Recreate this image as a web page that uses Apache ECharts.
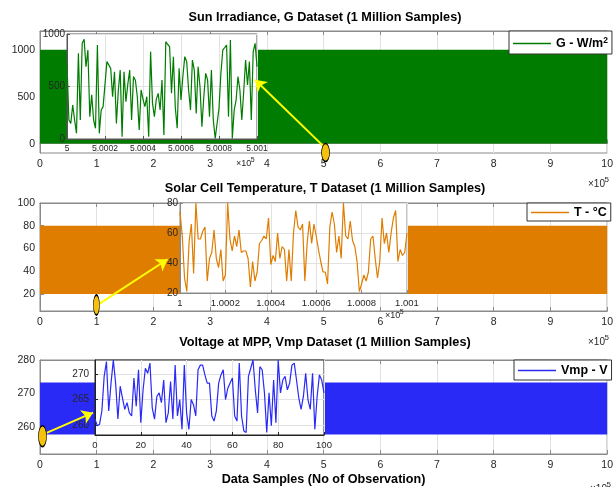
<!DOCTYPE html>
<html>
<head>
<meta charset="utf-8">
<script src="https://cdn.jsdelivr.net/npm/echarts@6/dist/echarts.min.js"></script>
<style>
  html, body { margin: 0; padding: 0; background: #fff; }
  #chart { width: 616px; height: 487px; }
</style>
</head>
<body>
<div id="chart"></div>
<script>
// ---------- data ----------
const totalSamples = 1000000;

// envelope of each full 1M-sample record (min, max)
const gRange = [0, 1000];
const tRange = [20, 80];
const vRange = [257.8, 273.3];

// first sample of each zoomed window (100 samples each)
const gStart = 500000;
const tStart = 100000;
const vStart = 0;

// G - irradiance (W/m2), samples 500000..500100
const gZoom = [721,181,149,324,181,54,816,181,911,949,
               689,848,213,420,181,102,895,54,276,308,
               520,737,752,673,403,641,149,460,657,22,
               641,356,520,657,181,594,560,403,86,467,
               380,308,403,22,832,340,213,380,435,276,
               562,38,927,900,879,435,784,300,102,673,
               371,600,784,737,467,276,752,657,244,689,
               498,117,400,625,562,213,657,181,6,150,
               292,625,848,870,895,213,943,6,276,371,
               594,467,181,450,752,514,737,181,832,911,689];

// T - cell temperature (°C), samples 100000..100100
const tZoom = [74,58,30,21,54,66,33,80,56,56,
               61,64,28,43,47,62,43,37,49,28,
               32,80,56,48,58,51,62,47,48,48,
               43,24,41,28,34,53,55,58,56,70,
               39,45,41,60,43,51,49,28,49,28,
               60,75,64,62,66,28,53,68,53,66,
               58,49,41,34,34,26,64,74,66,47,
               58,43,80,58,56,68,55,51,41,21,
               26,32,28,34,56,58,43,30,41,70,
               53,60,47,60,70,75,41,49,45,47,60];

// Vmp - voltage at MPP (V), samples 0..100
const vZoom = [261.2,259.9,260.2,262.8,269.5,272.4,262.8,268.2,272.7,268.2,
               261.2,267.6,265.3,263.1,264.4,262.4,261.8,269.2,263.7,270.8,
               260.5,266.9,271.1,270.1,272.1,263.4,261.2,265.6,266.3,264.4,
               268.8,260.5,262.4,268.5,261.2,271.7,261.8,265.0,259.2,271.7,
               262.4,259.2,265.0,264.0,261.8,270.8,271.7,271.7,269.8,268.2,
               268.2,261.8,260.8,262.8,268.2,269.8,270.8,265.0,267.2,268.2,
               269.2,261.8,260.8,272.1,261.8,258.9,258.6,269.5,271.1,272.7,
               266.9,262.4,271.4,270.8,266.3,258.6,266.3,259.9,268.8,260.5,
               272.7,266.3,268.8,269.5,266.9,268.2,271.7,272.1,268.8,265.3,
               263.1,265.6,270.1,265.0,263.1,270.1,259.2,265.6,269.8,268.8,266.3];

// tick values
const gMainTicks = [0, 500, 1000];
const tMainTicks = [20, 40, 60, 80, 100];
const vMainTicks = [260, 270, 280];
const vZoomTicks = [260, 265, 270];

// callouts: marker position and arrow (start, tip) in main-axis units
const gMarker = [503500, -95];
const gArrow = [[502000, -40], [379000, 681]];
const tMarker = [99500, 10.3];
const tArrow = [[105000, 11.5], [225000, 50.5]];
const vMarker = [4400, 257.3];
const vArrow = [[11700, 258.3], [93500, 264.3]];

// ---------- styling ----------
const FONT = '"Liberation Sans", Arial, Helvetica, sans-serif';
const GREEN = '#007D00';
const ORANGE = '#DE7D00';
const BLUE = '#2A2AF6';
const MARKER = '#F4C20D';
const ARROW = '#FFFF00';
const AXIS = '#8a8a8a';
const TXT = '#262626';
const GRIDLINE = '#e2e2e2';

const withStart = (start, values) => values.map((v, i) => [start + i, v]);
const plain = v => String(v);

function mainX(gridIndex, withName) {
  const ax = {
    type: 'value', gridIndex, min: 0, max: totalSamples, interval: 100000,
    axisLine: { show: true, lineStyle: { color: AXIS, width: 1 } },
    axisTick: { show: true, inside: true, length: 4, lineStyle: { color: AXIS } },
    axisLabel: { color: TXT, fontSize: 10.5, fontFamily: FONT, margin: 6,
                 formatter: v => String(v / 100000) },
    splitLine: { show: true, lineStyle: { color: GRIDLINE, width: 1 } },
    z: 0
  };
  if (withName) {
    ax.name = 'Data Samples (No of Observation)';
    ax.nameLocation = 'middle';
    ax.nameGap = 19;
    ax.nameTextStyle = { color: '#000', fontWeight: 'bold', fontSize: 12.6, fontFamily: FONT };
  }
  return ax;
}
function mainXTop(gridIndex) {
  return {
    type: 'value', gridIndex, position: 'top', min: 0, max: totalSamples, interval: 100000,
    axisLine: { show: true, lineStyle: { color: AXIS } },
    axisTick: { show: true, inside: true, length: 4, lineStyle: { color: AXIS } },
    axisLabel: { show: false }, splitLine: { show: false }, z: 0
  };
}
function mainY(gridIndex, min, max, ticks) {
  return {
    type: 'value', gridIndex, min, max,
    axisLine: { show: true, lineStyle: { color: AXIS } },
    axisTick: { show: true, inside: true, length: 4, customValues: ticks, lineStyle: { color: AXIS } },
    axisLabel: { color: TXT, fontSize: 10.5, fontFamily: FONT, margin: 5, customValues: ticks, formatter: plain },
    splitLine: { show: false }, z: 0
  };
}
function zoomX(gridIndex, start, fmt, fontSize, borderColor) {
  return {
    type: 'value', gridIndex, min: start, max: start + 100, interval: 20,
    axisLine: { show: true, lineStyle: { color: borderColor } },
    axisTick: { show: true, inside: true, length: 3, lineStyle: { color: borderColor } },
    axisLabel: { color: TXT, fontSize, fontFamily: FONT, margin: 5, formatter: fmt,
                 showMinLabel: true, showMaxLabel: true },
    splitLine: { show: true, lineStyle: { color: GRIDLINE } },
    z: 4
  };
}
function zoomY(gridIndex, min, max, opts, borderColor) {
  const ax = {
    type: 'value', gridIndex, min, max,
    axisLine: { show: true, lineStyle: { color: borderColor } },
    axisTick: { show: true, inside: true, length: 3, lineStyle: { color: borderColor } },
    axisLabel: { color: TXT, fontSize: 10, fontFamily: FONT, margin: opts.margin, formatter: plain },
    splitLine: { show: true, lineStyle: { color: GRIDLINE } },
    z: 4
  };
  if (opts.interval) ax.interval = opts.interval;
  if (opts.ticks) {
    ax.axisTick.customValues = opts.ticks;
    ax.axisLabel.customValues = opts.ticks;
  }
  return ax;
}

function band(xi, yi, range, color) {
  return {
    type: 'custom', xAxisIndex: xi, yAxisIndex: yi, z: 1, silent: true,
    data: [[0, range[0], totalSamples, range[1]]],
    encode: { x: [0, 2], y: [1, 3] },
    renderItem: (params, api) => {
      const a = api.coord([api.value(0), api.value(1)]);
      const b = api.coord([api.value(2), api.value(3)]);
      return { type: 'rect', shape: { x: a[0], y: b[1], width: b[0] - a[0], height: a[1] - b[1] },
               style: { fill: color } };
    }
  };
}
function zoomLine(name, xi, yi, start, values, color) {
  return {
    name, type: 'line', xAxisIndex: xi, yAxisIndex: yi, z: 5,
    data: withStart(start, values), symbol: 'none', showSymbol: false,
    lineStyle: { color, width: 1.2 }, itemStyle: { color }, animation: false
  };
}
function arrow(xi, yi, pts) {
  return {
    type: 'lines', coordinateSystem: 'cartesian2d', xAxisIndex: xi, yAxisIndex: yi, z: 6,
    symbol: ['none', 'arrow'], symbolSize: 11, silent: true,
    lineStyle: { color: ARROW, width: 2, opacity: 1, curveness: 0 },
    data: [{ coords: pts }]
  };
}
function marker(xi, yi, pos, size) {
  return {
    type: 'scatter', xAxisIndex: xi, yAxisIndex: yi, z: 7, clip: false, silent: true,
    symbol: 'circle', symbolSize: size, data: [pos],
    itemStyle: { color: MARKER, borderColor: '#000', borderWidth: 1, opacity: 1 }
  };
}
function legendBox(name, left, top, pad, fmt) {
  return {
    data: [name], left, top, orient: 'horizontal',
    icon: 'path://M0,0 L100,0 L100,4 L0,4 Z', symbolKeepAspect: false,
    itemWidth: 38, itemHeight: 1.6, itemGap: 0,
    padding: pad, backgroundColor: '#fff', borderColor: '#333', borderWidth: 1, borderRadius: 0,
    selectedMode: false, z: 10,
    textStyle: { color: '#000', fontWeight: 'bold', fontSize: 12.5, fontFamily: FONT,
                 rich: { a: { fontWeight: 'bold', fontSize: 12.5, fontFamily: FONT, color: '#000' },
                         s: { fontWeight: 'bold', fontSize: 8.5, fontFamily: FONT, color: '#000',
                              verticalAlign: 'top', padding: [0, 0, 6, 0] } } },
    formatter: fmt
  };
}
function title(text, y) {
  return { type: 'text', x: 325, y, z: 20,
           style: { text, fill: '#000', font: 'bold 12.7px ' + FONT, align: 'center', verticalAlign: 'middle' } };
}
function exponent(x, y, size) {
  return [
    { type: 'text', x, y, z: 20, style: { text: '×10', fill: TXT, font: size + 'px ' + FONT, verticalAlign: 'middle' } },
    { type: 'text', x: x + size * 1.65, y: y - size * 0.45, z: 20,
      style: { text: '5', fill: TXT, font: Math.round(size * 0.75) + 'px ' + FONT, verticalAlign: 'middle' } }
  ];
}
const fmt4 = v => String(parseFloat((v / 100000).toFixed(4)));

const option = {
  animation: false,
  backgroundColor: '#fff',
  grid: [
    { left: 40, top: 31, width: 570, height: 122, show: true, borderColor: AXIS, borderWidth: 1, backgroundColor: 'transparent', z: 0 },
    { left: 67, top: 34, width: 190, height: 105, show: true, borderColor: '#555', borderWidth: 1, backgroundColor: '#fff', z: 3 },
    { left: 40, top: 203, width: 570, height: 108, show: true, borderColor: AXIS, borderWidth: 1, backgroundColor: 'transparent', z: 0 },
    { left: 180, top: 203, width: 227, height: 90, show: true, borderColor: '#888', borderWidth: 1, backgroundColor: '#fff', z: 3 },
    { left: 40, top: 360, width: 570, height: 97, show: true, borderColor: AXIS, borderWidth: 1, backgroundColor: 'transparent', z: 0 },
    { left: 95, top: 360, width: 229, height: 75, show: true, borderColor: '#222', borderWidth: 1, backgroundColor: '#fff', z: 3 }
  ],
  xAxis: [
    mainX(0, false), mainXTop(0), zoomX(1, gStart, fmt4, 8.5, '#555'),
    mainX(2, false), mainXTop(2), zoomX(3, tStart, fmt4, 9.5, '#888'),
    mainX(4, true), mainXTop(4), zoomX(5, vStart, plain, 9.5, '#222')
  ],
  yAxis: [
    mainY(0, -100, 1200, gMainTicks), zoomY(1, 0, 1000, { interval: 500, margin: 2 }, '#555'),
    mainY(2, 5, 100, tMainTicks), zoomY(3, 20, 80, { interval: 20, margin: 2 }, '#888'),
    mainY(4, 252, 280, vMainTicks), zoomY(5, 258.1, 272.7, { ticks: vZoomTicks, margin: 6 }, '#222')
  ],
  legend: [
    legendBox('G - W/m2', 509, 31, [5, 4, 4, 4], () => '{a|G - W/m}{s|2}'),
    legendBox('T - °C', 527, 203, [3, 4, 2, 4], () => '{a|T - °C}'),
    legendBox('Vmp - V', 514, 360, [4, 4, 3, 4], () => '{a|Vmp - V}')
  ],
  series: [
    band(0, 0, gRange, GREEN),
    zoomLine('G - W/m2', 2, 1, gStart, gZoom, GREEN),
    arrow(0, 0, gArrow),
    marker(0, 0, gMarker, [8, 18]),

    band(3, 2, tRange, ORANGE),
    zoomLine('T - °C', 5, 3, tStart, tZoom, ORANGE),
    arrow(3, 2, tArrow),
    marker(3, 2, tMarker, [6, 20]),

    band(6, 4, vRange, BLUE),
    zoomLine('Vmp - V', 8, 5, vStart, vZoom, BLUE),
    arrow(6, 4, vArrow),
    marker(6, 4, vMarker, [8, 21])
  ],
  graphic: [
    title('Sun Irradiance, G Dataset (1 Million Samples)', 17),
    title('Solar Cell Temperature, T Dataset (1 Million Samples)', 188),
    title('Voltage at MPP, Vmp Dataset (1 Million Samples)', 342),
    ...exponent(588, 184, 10),
    ...exponent(236, 164, 9),
    ...exponent(588, 342, 10),
    ...exponent(385, 316, 9),
    ...exponent(590, 489, 10)
  ]
};

const chart = echarts.init(document.getElementById('chart'), null, { renderer: 'canvas' });
chart.setOption(option);
</script>
</body>
</html>
